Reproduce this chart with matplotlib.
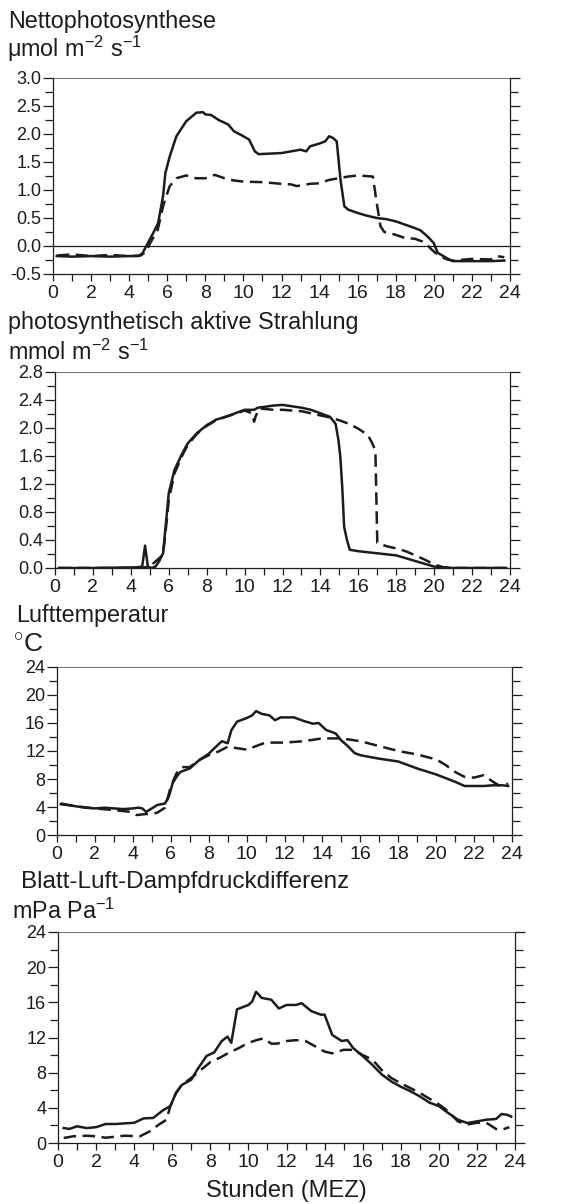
import numpy as np
import matplotlib
matplotlib.use("Agg")
import matplotlib.pyplot as plt
from matplotlib.ticker import MultipleLocator

plt.rcParams['font.family'] = ['Liberation Sans', 'DejaVu Sans']
plt.rcParams['mathtext.fontset'] = 'custom'
plt.rcParams['mathtext.rm'] = 'Liberation Sans'
plt.rcParams['mathtext.it'] = 'Liberation Sans'

# Nettophotosynthese
np_solid_t = [0.2, 1, 2, 3, 4, 4.5, 4.7, 4.9, 5.26, 5.52, 5.78, 5.9, 6.13, 6.48, 7.0, 7.53, 7.88,
              8.0, 8.3, 8.7, 9.2, 9.5, 10.0, 10.3, 10.6, 10.8, 12.0, 13.0, 13.3, 13.5, 14.0, 14.3,
              14.5, 14.7, 14.9, 15.1, 15.3, 15.5, 16.0, 16.5, 17.0, 17.5, 18.0, 18.5, 19.0, 19.3,
              19.7, 20.0, 20.2, 20.5, 20.8, 21.0, 22.0, 23.0, 23.7]
np_solid_v = [-0.18, -0.19, -0.18, -0.19, -0.18, -0.18, -0.13, 0.0, 0.23, 0.41, 0.89, 1.3, 1.6,
              1.96, 2.23, 2.38, 2.39, 2.35, 2.34, 2.25, 2.17, 2.05, 1.96, 1.9, 1.69, 1.64, 1.66,
              1.72, 1.69, 1.78, 1.83, 1.87, 1.96, 1.93, 1.87, 1.18, 0.71, 0.65, 0.59, 0.54, 0.50,
              0.48, 0.44, 0.38, 0.32, 0.28, 0.16, 0.05, -0.12, -0.18, -0.24, -0.27, -0.27, -0.27,
              -0.26]
np_dash_t = [0.2, 1, 2, 3, 4, 4.6, 4.9, 5.1, 5.5, 5.78, 5.95, 6.13, 6.48, 7.0, 7.5, 8.0, 8.5, 9.0,
             9.5, 10.0, 11.0, 12.0, 12.5, 12.8, 13.5, 14.0, 14.5, 15.0, 15.5, 16.0, 16.8, 17.0,
             17.2, 17.4, 18.0, 18.5, 19.0, 19.4, 19.7, 20.0, 20.3, 20.7, 21.0, 22.0, 23.0, 23.3,
             23.7]
np_dash_v = [-0.17, -0.15, -0.18, -0.16, -0.18, -0.17, -0.1, 0.05, 0.29, 0.71, 0.89, 1.07, 1.21,
             1.26, 1.21, 1.21, 1.27, 1.21, 1.17, 1.15, 1.14, 1.11, 1.10, 1.07, 1.11, 1.12, 1.18,
             1.21, 1.24, 1.26, 1.24, 0.77, 0.35, 0.25, 0.2, 0.14, 0.13, 0.08, 0.0, -0.1, -0.18,
             -0.24, -0.26, -0.23, -0.24, -0.18, -0.2]

# photosynthetisch aktive Strahlung
par_solid_t = [0.2, 2, 4.3, 4.6, 4.75, 4.9, 5.1, 5.3, 5.5, 5.7, 5.9, 6.0, 6.3, 6.7, 7.0, 7.5, 8.0,
               8.5, 9.0, 9.5, 10.0, 10.5, 10.7, 11.0, 11.5, 12.0, 12.5, 13.0, 13.5, 14.0, 14.5,
               14.8, 14.95, 15.05, 15.15, 15.25, 15.4, 15.55, 16.0, 17.0, 18.0, 18.5, 19.0, 19.5,
               20.0, 20.5, 21.0, 23.8]
par_solid_v = [0.0, 0.0, 0.01, 0.02, 0.32, 0.02, 0.0, 0.02, 0.1, 0.21, 0.78, 1.07, 1.4, 1.63,
               1.78, 1.93, 2.04, 2.12, 2.16, 2.21, 2.26, 2.26, 2.29, 2.30, 2.32, 2.33, 2.31, 2.29,
               2.26, 2.21, 2.16, 2.06, 1.83, 1.59, 1.16, 0.59, 0.4, 0.26, 0.24, 0.21, 0.18, 0.14,
               0.1, 0.06, 0.02, 0.01, 0.0, 0.0]
par_dash_t = [0.2, 4.5, 5.0, 5.2, 5.5, 5.7, 5.9, 6.0, 6.3, 6.7, 7.0, 7.5, 8.0, 8.5, 9.0, 9.5, 10.0,
              10.4, 10.5, 10.6, 10.8, 11.5, 12.0, 13.0, 14.0, 14.5, 15.0, 15.5, 16.0, 16.5, 16.7,
              16.9, 17.0, 17.5, 18.0, 18.5, 19.0, 19.5, 20.0, 20.5, 21.0, 23.8]
par_dash_v = [0.0, 0.0, 0.02, 0.07, 0.14, 0.19, 0.69, 0.97, 1.35, 1.6, 1.76, 1.92, 2.03, 2.11,
              2.16, 2.2, 2.25, 2.21, 2.09, 2.18, 2.28, 2.26, 2.26, 2.24, 2.18, 2.15, 2.11, 2.06,
              1.99, 1.9, 1.8, 1.68, 0.36, 0.31, 0.28, 0.24, 0.18, 0.12, 0.05, 0.01, 0.0, 0.0]

# Lufttemperatur
lt_solid_t = [0.2, 0.5, 1.0, 1.5, 2.0, 2.5, 3.0, 3.5, 4.0, 4.3, 4.5, 4.7, 5.0, 5.3, 5.7, 5.9, 6.1,
              6.3, 6.5, 7.0, 7.5, 8.0, 8.3, 8.7, 9.0, 9.2, 9.5, 10.0, 10.3, 10.5, 10.8, 11.2,
              11.5, 11.8, 12.5, 13.0, 13.5, 13.8, 14.2, 14.7, 15.0, 15.3, 15.7, 16.0, 17.0, 18.0,
              19.0, 20.0, 21.0, 21.5, 22.0, 22.5, 23.0, 23.5, 23.8]
lt_solid_v = [4.4, 4.3, 4.1, 3.9, 3.8, 3.9, 3.8, 3.7, 3.8, 3.9, 3.8, 3.3, 3.8, 4.3, 4.5, 5.5, 7.4,
              8.3, 9.0, 9.5, 10.7, 11.6, 12.4, 13.4, 13.1, 15.0, 16.2, 16.7, 17.1, 17.7, 17.3,
              17.1, 16.4, 16.8, 16.8, 16.3, 15.9, 16.0, 15.0, 14.5, 13.5, 12.8, 11.7, 11.4, 10.9,
              10.5, 9.5, 8.65, 7.6, 7.0, 7.0, 7.0, 7.1, 7.1, 7.0]
lt_dash_t = [0.2, 1.0, 2.0, 3.0, 3.8, 4.2, 4.7, 5.0, 5.3, 5.5, 5.7, 6.0, 6.3, 6.6, 7.0, 7.5, 8.0,
             8.5, 9.0, 9.5, 10.0, 10.5, 11.0, 12.0, 13.0, 14.0, 15.0, 16.0, 17.0, 18.0, 19.0,
             20.0, 20.5, 21.0, 21.5, 22.0, 22.5, 23.0, 23.3, 23.8]
lt_dash_v = [4.5, 4.1, 3.8, 3.56, 3.33, 2.85, 3.0, 3.0, 3.2, 3.56, 3.9, 6.9, 8.8, 9.7, 9.7, 10.7,
             11.4, 11.9, 12.6, 12.4, 12.2, 12.7, 13.2, 13.2, 13.4, 13.8, 13.8, 13.4, 12.7, 12.0,
             11.5, 10.8, 10.0, 9.0, 8.3, 8.2, 8.55, 7.6, 7.1, 7.3]

# Blatt-Luft-Dampfdruckdifferenz
vpd_solid_t = [0.3, 0.6, 1.0, 1.5, 2.0, 2.5, 3.0, 4.0, 4.5, 5.0, 5.5, 5.9, 6.2, 6.5, 7.0, 7.3,
               7.8, 8.2, 8.6, 8.9, 9.1, 9.4, 10.0, 10.2, 10.4, 10.7, 11.2, 11.6, 12.0, 12.5, 12.8,
               13.3, 13.8, 14.0, 14.4, 14.9, 15.2, 15.5, 16.0, 16.5, 17.0, 17.5, 18.0, 18.5, 19.0,
               19.5, 20.0, 20.5, 21.0, 21.5, 22.0, 22.5, 23.0, 23.3, 23.6, 23.8]
vpd_solid_v = [1.7, 1.6, 1.9, 1.7, 1.8, 2.16, 2.16, 2.3, 2.8, 2.85, 3.7, 4.2, 5.7, 6.6, 7.2, 8.3,
               9.9, 10.3, 11.6, 12.1, 11.4, 15.2, 15.7, 16.1, 17.2, 16.5, 16.3, 15.3, 15.7, 15.7,
               15.9, 15.0, 14.6, 14.6, 12.3, 11.6, 11.7, 10.8, 9.9, 8.9, 7.8, 7.0, 6.4, 5.9, 5.3,
               4.6, 4.2, 3.4, 2.65, 2.27, 2.46, 2.65, 2.73, 3.3, 3.2, 3.0]
vpd_dash_t = [0.3, 0.8, 1.5, 2.0, 2.5, 3.5, 4.3, 4.8, 5.3, 5.7, 5.9, 6.2, 6.5, 7.0, 7.5, 8.0, 8.5,
              9.0, 9.5, 10.0, 10.5, 10.8, 11.2, 11.5, 12.0, 12.5, 13.0, 13.5, 14.0, 14.4, 15.0,
              15.5, 16.0, 16.5, 17.0, 17.5, 18.0, 19.0, 20.0, 20.5, 21.0, 21.5, 22.0, 22.5, 23.0,
              23.3, 23.7]
vpd_dash_v = [0.57, 0.76, 0.83, 0.76, 0.6, 0.83, 0.76, 1.3, 2.1, 2.65, 4.2, 5.7, 6.6, 7.4, 8.3,
              9.2, 9.7, 10.3, 10.8, 11.4, 11.75, 11.9, 11.3, 11.3, 11.6, 11.7, 11.6, 11.0, 10.4,
              10.2, 10.6, 10.6, 10.0, 9.5, 8.3, 7.4, 6.8, 5.7, 4.4, 3.6, 2.46, 2.1, 2.3, 2.3, 1.6,
              1.5, 1.8]

W, H = 577, 1204
fig = plt.figure(figsize=(W / 100, H / 100), dpi=100)

ink = '#1c1c1c'


def px_axes(left, top, right, bottom):
    return fig.add_axes([left / W, 1 - bottom / H, (right - left) / W, (bottom - top) / H])


def style(ax, ylim, ymajor, yminor, yfmt):
    ax.set_xlim(0, 24)
    ax.set_ylim(*ylim)
    ax.xaxis.set_major_locator(MultipleLocator(2))
    ax.xaxis.set_minor_locator(MultipleLocator(1))
    ax.yaxis.set_major_locator(MultipleLocator(ymajor))
    ax.yaxis.set_minor_locator(MultipleLocator(yminor))
    ax.yaxis.set_major_formatter(yfmt)
    ax.tick_params(axis='x', which='both', direction='out', length=5, width=0.9, colors=ink,
                   labelsize=14, pad=3, top=False)
    ax.tick_params(axis='y', which='major', direction='out', length=7, width=0.9, colors=ink,
                   labelsize=13, pad=1.5, right=True)
    ax.tick_params(axis='y', which='minor', direction='out', length=5.5, width=0.9, colors=ink,
                   right=True)
    for s in ax.spines.values():
        s.set_linewidth(0.9)
        s.set_color(ink)
    ax.spines['top'].set_linewidth(0.6)
    ax.spines['top'].set_color('#555555')


def draw(ax, st, sv, dt, dv):
    ax.plot(st, sv, color=ink, lw=1.8, solid_joinstyle='round')
    ax.plot(dt, dv, color=ink, lw=1.8, dashes=(5, 2.6))


ax1 = px_axes(53, 78, 510, 274)
draw(ax1, np_solid_t, np_solid_v, np_dash_t, np_dash_v)
ax1.axhline(0, color=ink, lw=0.9)
style(ax1, (-0.5, 3.0), 0.5, 0.25, lambda v, p: f"{v:.1f}")

ax2 = px_axes(55, 372, 510, 568)
draw(ax2, par_solid_t, par_solid_v, par_dash_t, par_dash_v)
style(ax2, (0, 2.8), 0.4, 0.2, lambda v, p: f"{v:.1f}")

ax3 = px_axes(57, 667, 512, 835)
draw(ax3, lt_solid_t, lt_solid_v, lt_dash_t, lt_dash_v)
style(ax3, (0, 24), 4, 2, lambda v, p: f"{v:.0f}")

ax4 = px_axes(58, 932, 515, 1143)
draw(ax4, vpd_solid_t, vpd_solid_v, vpd_dash_t, vpd_dash_v)
style(ax4, (0, 24), 4, 2, lambda v, p: f"{v:.0f}")


def label(x, y, s, size=16.8):
    fig.text(x / W, 1 - y / H, s, fontsize=size, color=ink, ha='left', va='baseline')


label(8, 28, "Nettophotosynthese")
label(7, 57, r"μmol m$^{-2}$ s$^{-1}$")
label(8, 329, "photosynthetisch aktive Strahlung")
label(8, 360, r"mmol m$^{-2}$ s$^{-1}$")
label(16, 622, "Lufttemperatur")
label(13, 652, r"$^{\circ}$C", size=19)
label(21, 888, "Blatt-Luft-Dampfdruckdifferenz", size=17.5)
label(12, 919, r"mPa Pa$^{-1}$")
fig.text(286 / W, 1 - 1197 / H, "Stunden (MEZ)", fontsize=17, color=ink, ha='center', va='baseline')

fig.savefig("out.png", dpi=100)
